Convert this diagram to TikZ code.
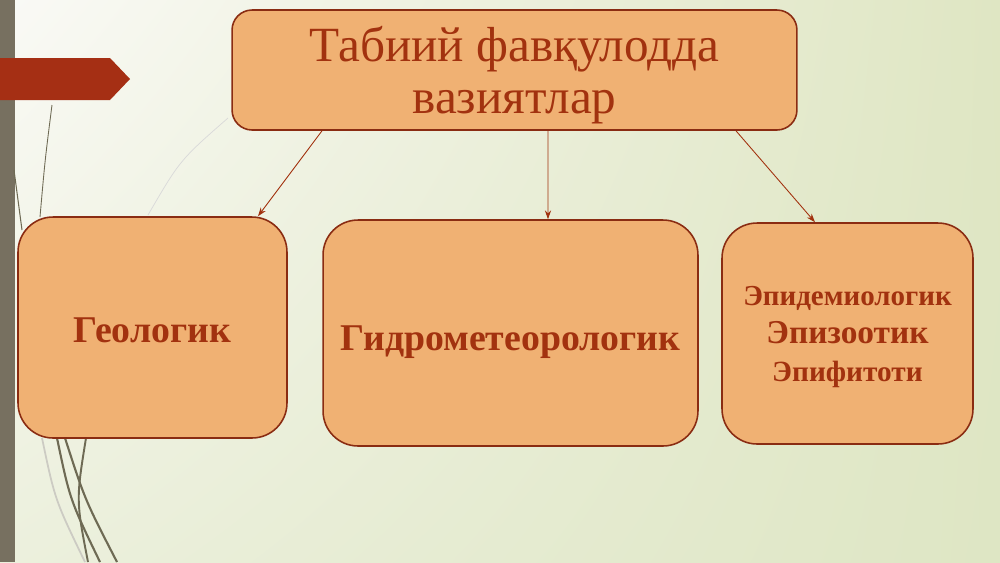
\documentclass[tikz,border=0pt]{standalone}
\usepackage{fontspec}
\setmainfont{Liberation Serif}
\usetikzlibrary{arrows.meta,shadings}
\definecolor{boxfill}{HTML}{F0B173}
\definecolor{boxline}{HTML}{8A2C12}
\definecolor{txtred}{HTML}{A2320F}
\definecolor{grass}{HTML}{6E6A54}
\definecolor{barcol}{HTML}{777060}
\definecolor{tagred}{HTML}{A52F14}
\definecolor{bgul}{HTML}{FAFAF6}
\definecolor{bgll}{HTML}{ECF0DD}
\definecolor{bgur}{HTML}{DFE6C3}
\definecolor{bglr}{HTML}{DEE6C4}

\begin{document}
\begin{tikzpicture}[x=0.02cm,y=-0.02cm,
        box/.style={draw=boxline,fill=boxfill,line width=0.9pt,rounded corners=0.7cm,inner sep=0pt,text=txtred,align=center,text depth=0pt},
        conn/.style={draw=txtred,line width=0.5pt,-{Stealth[length=5pt,width=3.5pt]}}]
            \useasboundingbox (0,0) rectangle (1000,562);
            \shade[upper left=bgul,lower left=bgll,upper right=bgur,lower right=bglr] (0,0) rectangle (1000,562);
            \fill[barcol] (0,0) rectangle (15,562);
            \fill[tagred] (0,58) -- (110,58) -- (130,79) -- (110,100) -- (0,100) -- cycle;
            \draw[grass!35,line width=1pt] (42,438) .. controls (55,500) .. (85,562);
            \draw[grass,line width=1.2pt] (57,438) .. controls (70,500) .. (100,562);
            \draw[grass,line width=1.2pt] (65,438) .. controls (85,500) .. (117,562);
            \draw[grass,line width=1.1pt] (86,438) .. controls (76,500) .. (88,562);
            \draw[grass,line width=0.5pt] (52,105) .. controls (45,160) .. (40,217);
            \draw[grass,line width=0.6pt] (14,170) .. controls (18,200) .. (22,230);
            \draw[gray!30,line width=0.4pt] (228,118) .. controls (180,160) .. (148,215);
            \node[box,minimum width=11.3cm,minimum height=2.4cm,rounded corners=0.4cm,font=\fontsize{28}{30}\selectfont] (top) at (514.5,70) {Табиий фавқулодда\\вазиятлар};
            \node[box,minimum width=5.38cm,minimum height=4.42cm,text height=17pt,font=\bfseries\fontsize{21.5}{26}\selectfont] (geo) at (152.5,327.5) {Геологик};
            \node[box,minimum width=7.5cm,minimum height=4.52cm,text height=20pt,font=\bfseries\fontsize{21.5}{26}\selectfont] (hydro) at (510.5,333) {Гидрометеорологик};
            \node[box,minimum width=5.02cm,minimum height=4.42cm,font=\bfseries\fontsize{17}{21.6}\selectfont] (bio) at (847.5,333.5)
                {\fontsize{16.5}{21.6}\selectfont Эпидемиологик\\\fontsize{19}{21.6}\selectfont Эпизоотик\\\fontsize{16.7}{21.6}\selectfont Эпифитоти};
            \draw[conn] ([xshift=-3.85cm]top.south) -- ([xshift=2.11cm]geo.north);
            \draw[conn] ([xshift=0.67cm]top.south) -- ([xshift=0.75cm]hydro.north);
            \draw[conn] ([xshift=4.43cm]top.south) -- ([xshift=-0.65cm]bio.north);
        \end{tikzpicture}
\end{document}
